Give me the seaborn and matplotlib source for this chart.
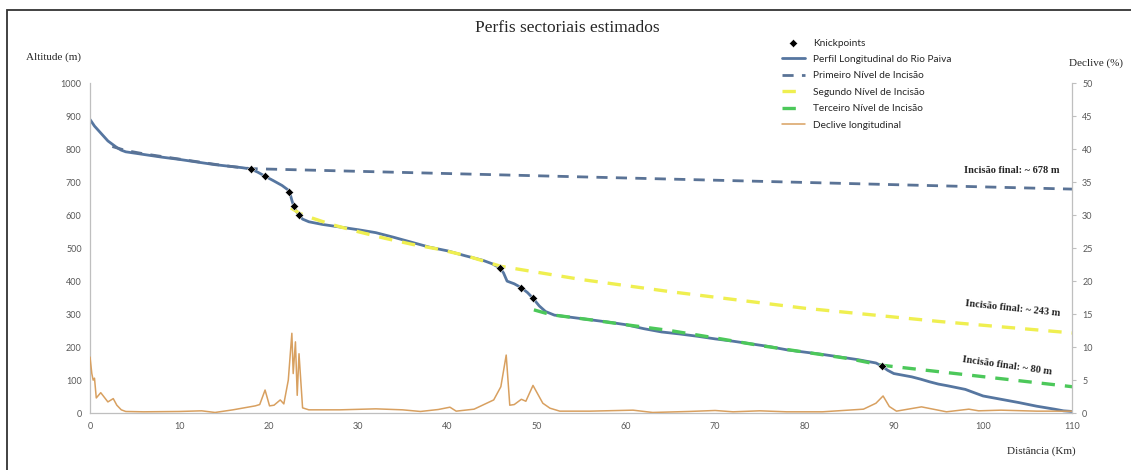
import seaborn as sns
import matplotlib.pyplot as plt
from matplotlib.patches import Rectangle

# Perfil longitudinal do Rio Paiva (distância em km, altitude em m)
perfil_km = [0, 0.5, 1, 1.5, 2, 2.5, 3, 3.5, 4, 5, 6, 8, 10, 12, 14, 16, 17, 18,
             18.8, 19.6, 20.5, 21.5, 22.2, 22.4, 22.6, 22.8, 23.1, 23.4, 23.8, 24.5,
             26, 28, 30, 32, 34, 36, 38, 40, 42, 44, 45, 45.9, 46.3, 46.7, 47.5,
             48.3, 49.0, 49.6, 50.3, 51, 52, 54, 56, 58, 60, 62, 64, 66, 68, 70,
             72, 74, 76, 78, 80, 82, 84, 86, 88, 88.7, 89.3, 90, 91, 92, 93, 94,
             95, 96, 98, 100, 102, 104, 106, 108, 109, 110]
perfil_alt = [890, 870, 855, 840, 825, 815, 805, 797, 792, 788, 784, 776, 769, 761,
              753, 747, 744, 740, 730, 718, 705, 690, 676, 665, 645, 628, 612, 600,
              588, 580, 572, 564, 556, 547, 533, 518, 503, 492, 477, 463, 453, 440,
              425, 400, 392, 380, 365, 348, 325, 308, 297, 290, 283, 276, 268, 256,
              246, 240, 233, 225, 218, 210, 202, 192, 185, 178, 170, 162, 152, 142,
              130, 120, 115, 110, 103, 95, 88, 83, 72, 52, 42, 32, 21, 12, 7, 5]

# Knickpoints
knick_km = [18, 19.6, 22.3, 22.8, 23.4, 45.9, 48.3, 49.6, 88.7]
knick_alt = [740, 718, 670, 628, 600, 440, 380, 348, 142]

# Níveis de incisão estimados
nivel1_km = [2.5, 4, 6, 8, 10, 12, 14, 16, 18, 110]
nivel1_alt = [808, 796, 786, 778, 770, 762, 754, 747, 741, 679]
nivel2_km = [22.5, 23.5, 25, 27, 30, 33, 36, 39, 42, 46, 55, 65, 80, 95, 110]
nivel2_alt = [622, 605, 590, 572, 550, 530, 512, 497, 478, 445, 405, 368, 318, 278, 243]
nivel3_km = [49.7, 51, 52, 54, 56, 60, 65, 70, 75, 80, 85, 88.7, 110]
nivel3_alt = [313, 303, 297, 290, 283, 268, 250, 228, 205, 185, 165, 145, 80]

# Declive longitudinal (%)
declive_km = [0, 0.2, 0.35, 0.5, 0.7, 1.2, 1.6, 2.0, 2.6, 3.0, 3.5, 4.0, 6, 10,
              12.5, 14, 16, 18.5, 19.0, 19.6, 20.1, 20.6, 21.3, 21.7, 22.2, 22.6,
              22.75, 23.0, 23.2, 23.4, 23.8, 24.5, 28, 32, 35, 37, 39, 40.3, 41, 43,
              45.2, 46.0, 46.6, 47.0, 47.5, 48.3, 48.8, 49.6, 50.7, 51.5, 52.6, 56,
              60.8, 63, 67, 70, 72, 75, 78, 82, 86.6, 88.0, 88.8, 89.5, 90.3, 93.1,
              95.9, 98.4, 99.5, 102, 106, 110]
declive_pct = [8.5, 6.0, 5.0, 5.3, 2.3, 3.1, 2.4, 1.7, 2.2, 1.2, 0.5, 0.25, 0.2, 0.25,
               0.35, 0.1, 0.5, 1.1, 1.3, 3.5, 1.1, 1.2, 2.0, 1.4, 5.0, 12.1,
               6.0, 10.8, 2.7, 9.0, 0.8, 0.5, 0.5, 0.65, 0.5, 0.25, 0.55, 0.9, 0.3, 0.6,
               2.0, 4.0, 8.8, 1.2, 1.3, 2.1, 1.8, 4.2, 1.5, 0.75, 0.3, 0.3,
               0.45, 0.1, 0.25, 0.4, 0.2, 0.35, 0.2, 0.2, 0.6, 1.5, 2.6, 1.0, 0.3, 0.95,
               0.2, 0.6, 0.35, 0.45, 0.3, 0.3]

sns.set_style("white")
plt.rcParams['font.family'] = ['Lato', 'DejaVu Sans']
serif = ['Liberation Serif', 'DejaVu Serif']

fig = plt.figure(figsize=(11.31, 4.70), dpi=100)
ax = fig.add_axes([0.0796, 0.121, 0.8686, 0.702])
ax2 = ax.twinx()

sns.lineplot(x=perfil_km, y=perfil_alt, ax=ax, color='#5676A0', linewidth=2.0,
             label='Perfil Longitudinal do Rio Paiva', zorder=2)
sns.lineplot(x=nivel1_km, y=nivel1_alt, ax=ax, color='#5A7396', linewidth=2.0,
             linestyle=(0, (4, 3)), label='Primeiro Nível de Incisão', zorder=3)
sns.lineplot(x=nivel2_km, y=nivel2_alt, ax=ax, color='#EFEF50', linewidth=2.4,
             linestyle=(0, (4, 3)), label='Segundo Nível de Incisão', zorder=3)
sns.lineplot(x=nivel3_km, y=nivel3_alt, ax=ax, color='#4CC85A', linewidth=2.4,
             linestyle=(0, (4, 3)), label='Terceiro Nível de Incisão', zorder=3)
sns.scatterplot(x=knick_km, y=knick_alt, ax=ax, color='black', marker='D', s=18,
                label='Knickpoints', zorder=5)
sns.lineplot(x=declive_km, y=declive_pct, ax=ax2, color='#D8A060', linewidth=1.1,
             label='Declive longitudinal')

for a in (ax, ax2):
    if a.get_legend() is not None:
        a.get_legend().remove()

ax.set_xlim(0, 110)
ax.set_ylim(0, 1000)
ax2.set_ylim(0, 50)
ax.set_xticks(range(0, 111, 10))
ax.set_yticks(range(0, 1001, 100))
ax2.set_yticks(range(0, 51, 5))
ax.set_xlabel('')
ax.set_ylabel('')
ax2.set_ylabel('')

spine_col = '#BFBFBF'
for s in ['top', 'right']:
    ax.spines[s].set_visible(False)
for s in ['left', 'bottom']:
    ax.spines[s].set_color(spine_col)
    ax.spines[s].set_linewidth(0.9)
for s in ['top', 'left', 'bottom']:
    ax2.spines[s].set_visible(False)
ax2.spines['right'].set_color(spine_col)
ax2.spines['right'].set_linewidth(0.9)

ax.tick_params(axis='y', length=0, pad=6, labelsize=6.5, labelcolor='#595959')
ax.tick_params(axis='x', length=0, pad=6.5, labelsize=6.5, labelcolor='#595959')
ax2.tick_params(axis='y', length=3, color=spine_col, pad=4, labelsize=6.5,
                labelcolor='#595959')

# legenda
h1, l1 = ax.get_legend_handles_labels()
h2, l2 = ax2.get_legend_handles_labels()
handles = dict(zip(l1 + l2, h1 + h2))
order = ['Knickpoints', 'Perfil Longitudinal do Rio Paiva', 'Primeiro Nível de Incisão',
         'Segundo Nível de Incisão', 'Terceiro Nível de Incisão', 'Declive longitudinal']
fig.legend([handles[k] for k in order], order, loc='upper left',
           bbox_to_anchor=(0.691, 0.918), frameon=False, fontsize=7.3,
           handlelength=2.3, handletextpad=0.8, labelspacing=0.72,
           borderpad=0, borderaxespad=0, labelcolor='#262626')

# textos
fig.text(0.502, 0.94, 'Perfis sectoriais estimados', ha='center', va='center',
         fontsize=12.5, family=serif)
fig.text(0.023, 0.879, 'Altitude (m)', ha='left', va='center', fontsize=8, family=serif)
fig.text(0.945, 0.866, 'Declive (%)', ha='left', va='center', fontsize=8, family=serif)
fig.text(0.921, 0.04, 'Distância (Km)', ha='center', va='center', fontsize=8, family=serif)

ax.text(108.6, 735, 'Incisão final: ~ 678 m', ha='right', va='center', fontsize=7.5,
        fontweight='bold', family=serif)
ax.text(103.3, 318, 'Incisão final: ~ 243 m', ha='center', va='center', fontsize=7.5,
        fontweight='bold', family=serif, rotation=-6, rotation_mode='anchor')
ax.text(102.7, 142, 'Incisão final: ~ 80 m', ha='center', va='center', fontsize=7.5,
        fontweight='bold', family=serif, rotation=-8, rotation_mode='anchor')

fig.add_artist(Rectangle((7 / 1131, -0.05), 1.0, 0.979 + 0.05, transform=fig.transFigure,
                         fill=False, edgecolor='#333333', linewidth=1.3, clip_on=False))

fig.savefig('out.png', dpi=100)
